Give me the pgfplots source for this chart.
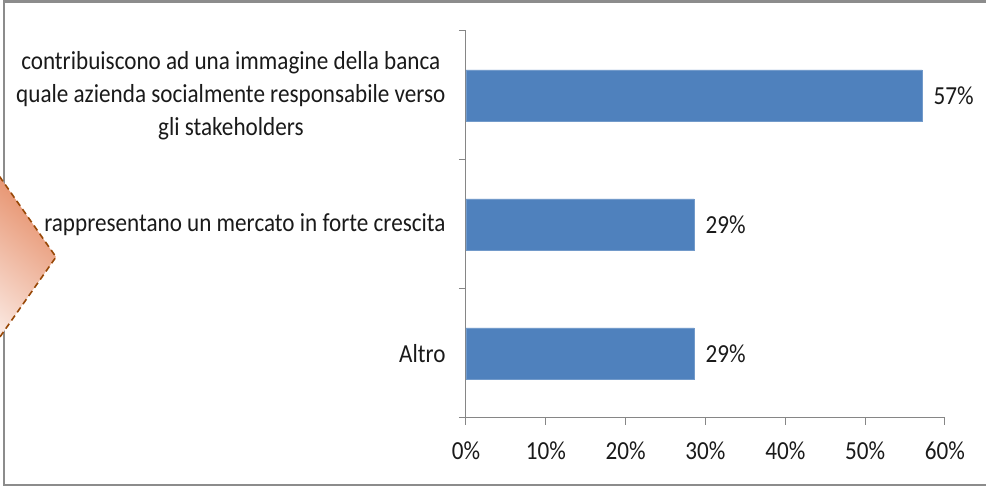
\documentclass[border=0pt]{standalone}
\usepackage{pgfplots}
\pgfplotsset{compat=1.18}
\usepackage{fontspec}
\setmainfont{Carlito}[FakeStretch=0.89]
\definecolor{barblue}{HTML}{4F81BD}
\definecolor{framegray}{HTML}{8C8C8C}
\definecolor{axgray}{HTML}{868686}
\definecolor{dlight}{HTML}{FAE6DE}
\definecolor{ddark}{HTML}{E4875F}
\definecolor{dborder}{HTML}{984807}
\definecolor{txt}{HTML}{1A1A1A}
\begin{document}
\begin{tikzpicture}[x=1pt,y=1pt]
\path[use as bounding box] (0,0) rectangle (986,486);
\begin{scope}
\clip (0,0) rectangle (986,486);
\draw[framegray, line width=2.2pt] (990,484.5) -- (4,484.5) -- (4,1.2) -- (990,1.2);
% decorative diamond (partly outside the frame)
\shade[top color=ddark, bottom color=dlight, shading angle=-40] (-12,326) -- (56,229) -- (-12,132) -- cycle;
\draw[dborder, line width=1.6pt, dash pattern=on 6pt off 4pt] (-12,326) -- (56,229) -- (-12,132);
\end{scope}
\begin{axis}[
  at={(466pt,68pt)}, anchor=south west,
  scale only axis, width=479pt, height=387pt,
  xbar, bar width=51pt,
  xmin=0, xmax=60, ymin=0.5, ymax=3.5,
  axis x line*=bottom, axis y line*=left,
  axis line style={axgray, line width=1pt},
  tick style={axgray, line width=1pt},
  tick align=outside, major tick length=7pt,
  xtick={0,10,...,60},
  xticklabel={\pgfmathprintnumber{\tick}\%},
  /pgf/number format/assume math mode=true,
  ytick={0.5,1.5,2.5,3.5},
  y tick label as interval,
  yticklabels={Altro, rappresentano un mercato in forte crescita, {contribuiscono ad una immagine della banca\\quale azienda socialmente responsabile verso\\gli stakeholders}},
  yticklabel style={align=center, font=\fontsize{26}{33}\selectfont, text=txt, xshift=-10pt},
  xticklabel style={font=\fontsize{26}{33}\selectfont, text=txt, yshift=-13pt},
  nodes near coords={\pgfmathprintnumber[fixed,precision=0]{\pgfplotspointmeta}\%},
  every node near coord/.append style={font=\fontsize{26}{33}\selectfont, text=txt, xshift=8pt},
  clip=false,
]
\addplot[fill=barblue, draw=barblue!80!white] coordinates {(28.57,1) (28.57,2) (57.14,3)};
\end{axis}
\end{tikzpicture}
\end{document}
